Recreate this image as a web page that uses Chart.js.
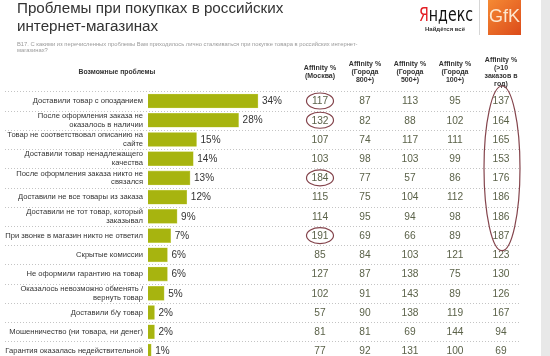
<!DOCTYPE html>
<html><head><meta charset="utf-8">
<script src="https://cdn.jsdelivr.net/npm/chart.js@4/dist/chart.umd.min.js"></script>
<style>
html,body{margin:0;padding:0;background:#fff;overflow:hidden;width:550px;height:356px}
#wrap{position:absolute;left:0;top:0;width:550px;height:372px}
</style>
</head><body><div id="wrap"><canvas id="c"></canvas></div>
<script>
const problems = [
  ['Доставили товар с опозданием'],
  ['После оформления заказа не','оказалось в наличии'],
  ['Товар не соответствовал описанию на','сайте'],
  ['Доставили товар ненадлежащего','качества'],
  ['После оформления заказа никто не','связался'],
  ['Доставили не все товары из заказа'],
  ['Доставили не тот товар, который','заказывал'],
  ['При звонке в магазин никто не ответил'],
  ['Скрытые комиссии'],
  ['Не оформили гарантию на товар'],
  ['Оказалось невозможно обменять /','вернуть товар'],
  ['Доставили б/у товар'],
  ['Мошенничество (ни товара, ни денег)'],
  ['Гарантия оказалась недействительной']
];
const sharePct         = [34,28,15,14,13,12,9,7,6,6,5,2,2,1];
const affinityMoscow   = [117,132,107,103,184,115,114,191,85,127,102,57,81,77];
const affinity800      = [87,82,74,98,77,75,95,69,84,87,91,90,81,92];
const affinity500      = [113,88,117,103,57,104,94,66,103,138,143,138,69,131];
const affinity100      = [95,102,111,99,86,112,98,89,121,75,89,119,144,100];
const affinityFrequent = [137,164,165,153,176,186,186,187,123,130,126,167,94,69];
const columnHeaders = [
  ['Affinity %','(Москва)'],
  ['Affinity %','(Города','800+)'],
  ['Affinity %','(Города','500+)'],
  ['Affinity %','(Города','100+)'],
  ['Affinity %','(>10','заказов в','год)']
];
const highlightedMoscowRows = [0,1,4,7];
const highlightedFrequentRows = [0,7];
const titleLines = ['Проблемы при покупках в российских','интернет-магазинах'];
const questionLines = ['В17. С какими из перечисленных проблемы Вам приходилось лично сталкиваться при покупке товара в российских интернет-','магазинах?'];
const problemsHeader = 'Возможные проблемы';

const tableColumns = [affinityMoscow, affinity800, affinity500, affinity100, affinityFrequent];
const colX = [320, 365, 410, 455, 501];
const FONT = '"Liberation Sans", Arial, sans-serif';

const deco = {
  id: 'deco',
  beforeDraw(chart) {
    const ctx = chart.ctx, ys = chart.scales.y;
    ctx.save();
    ctx.fillStyle = '#fff';
    ctx.fillRect(0, 0, chart.width, chart.height);
    ctx.fillStyle = '#e8e8e8';
    ctx.fillRect(541, 0, 9, chart.height);
    const step = ys.getPixelForValue(1) - ys.getPixelForValue(0);
    ctx.strokeStyle = '#c4c4c4';
    ctx.lineWidth = 1;
    ctx.setLineDash([1, 2]);
    for (let i = 0; i <= problems.length; i++) {
      const py = Math.round(ys.getPixelForValue(0) - step / 2 + i * step) + 0.5;
      ctx.beginPath(); ctx.moveTo(5, py); ctx.lineTo(521, py); ctx.stroke();
    }
    ctx.restore();
  },
  afterDraw(chart) {
    const ctx = chart.ctx, ys = chart.scales.y;
    ctx.save();
    ctx.fillStyle = '#333';
    ctx.font = '15.2px ' + FONT;
    ctx.textBaseline = 'alphabetic';
    ctx.textAlign = 'left';
    ctx.fillText(titleLines[0], 17, 13);
    ctx.fillText(titleLines[1], 17, 31);
    ctx.fillStyle = '#9a9a9a';
    ctx.font = '5.8px ' + FONT;
    ctx.fillText(questionLines[0], 17, 46);
    ctx.fillText(questionLines[1], 17, 52);
    ctx.font = '19px "Liberation Sans Narrow", "DejaVu Sans Condensed", ' + FONT;
    const wYa = ctx.measureText('Я').width, wRest = ctx.measureText('ндекс').width;
    const sx = 54 / (wYa + wRest);
    ctx.save();
    ctx.translate(419, 20.5);
    ctx.scale(sx, 1);
    ctx.fillStyle = '#e31e24';
    ctx.fillText('Я', 0, 0);
    ctx.fillStyle = '#111';
    ctx.fillText('ндекс', wYa, 0);
    ctx.restore();
    ctx.fillStyle = '#333';
    ctx.font = 'bold 6px ' + FONT;
    ctx.textAlign = 'center';
    ctx.fillText('Найдётся всё', 445, 31);
    ctx.fillStyle = '#d6d6d6';
    ctx.fillRect(479, 0, 1, 35);
    const g = ctx.createLinearGradient(488, 0, 521, 35);
    g.addColorStop(0, '#f58a34');
    g.addColorStop(1, '#dc4b1a');
    ctx.fillStyle = g;
    ctx.fillRect(488, 0, 33, 35);
    ctx.fillStyle = '#fde7cf';
    ctx.font = '18px ' + FONT;
    ctx.textAlign = 'center';
    ctx.fillText('GfK', 504.5, 22);
    ctx.fillStyle = '#333';
    ctx.font = 'bold 6.8px ' + FONT;
    ctx.textBaseline = 'middle';
    ctx.fillText(problemsHeader, 117, 72);
    ctx.font = 'bold 7px ' + FONT;
    const lh = 8.2;
    columnHeaders.forEach((lines, c) => {
      const y0 = 72 - (lines.length - 1) * lh / 2;
      lines.forEach((t, k) => ctx.fillText(t, colX[c], y0 + k * lh));
    });
    ctx.font = '10.2px ' + FONT;
    ctx.fillStyle = '#5b6249';
    tableColumns.forEach((col, c) => {
      col.forEach((v, i) => ctx.fillText(String(v), colX[c], ys.getPixelForValue(i) + 0.5));
    });
    ctx.strokeStyle = '#84444c';
    ctx.lineWidth = 1.2;
    highlightedMoscowRows.forEach(i => {
      ctx.beginPath();
      ctx.ellipse(colX[0], ys.getPixelForValue(i), 13.5, 8, 0, 0, Math.PI * 2);
      ctx.stroke();
    });
    const yTop = ys.getPixelForValue(highlightedFrequentRows[0]);
    const yBot = ys.getPixelForValue(highlightedFrequentRows[1]);
    ctx.beginPath();
    ctx.ellipse(502, (yTop + yBot) / 2, 18, (yBot - yTop) / 2 + 15, 0, 0, Math.PI * 2);
    ctx.stroke();
    ctx.restore();
  },
  afterDatasetsDraw(chart) {
    const ctx = chart.ctx;
    const meta = chart.getDatasetMeta(0);
    ctx.save();
    ctx.fillStyle = '#333';
    ctx.font = '10px ' + FONT;
    ctx.textAlign = 'left';
    ctx.textBaseline = 'middle';
    meta.data.forEach((el, i) => ctx.fillText(sharePct[i] + '%', el.x + 4, el.y + 0.5));
    ctx.restore();
  }
};

new Chart(document.getElementById('c'), {
  type: 'bar',
  data: {
    labels: problems,
    datasets: [{
      data: sharePct,
      backgroundColor: '#a7b40f',
      borderColor: '#c9d35a',
      borderWidth: 0.6,
      barThickness: 14
    }]
  },
  options: {
    indexAxis: 'y',
    responsive: true,
    maintainAspectRatio: false,
    animation: false,
    events: [],
    layout: { padding: { left: 5, right: 272.6, top: 91.4, bottom: 11.4 } },
    plugins: { legend: { display: false }, tooltip: { enabled: false }, title: { display: false } },
    scales: {
      x: { min: 0, max: 40, display: false },
      y: {
        grid: { display: false, drawTicks: false },
        border: { display: false },
        ticks: {
          padding: 5,
          color: '#333',
          font: { family: FONT, size: 7.6, lineHeight: 1.15 },
          autoSkip: false
        },
        afterFit(scale) { scale.width = 143; }
      }
    }
  },
  plugins: [deco]
});
</script>
</body></html>
